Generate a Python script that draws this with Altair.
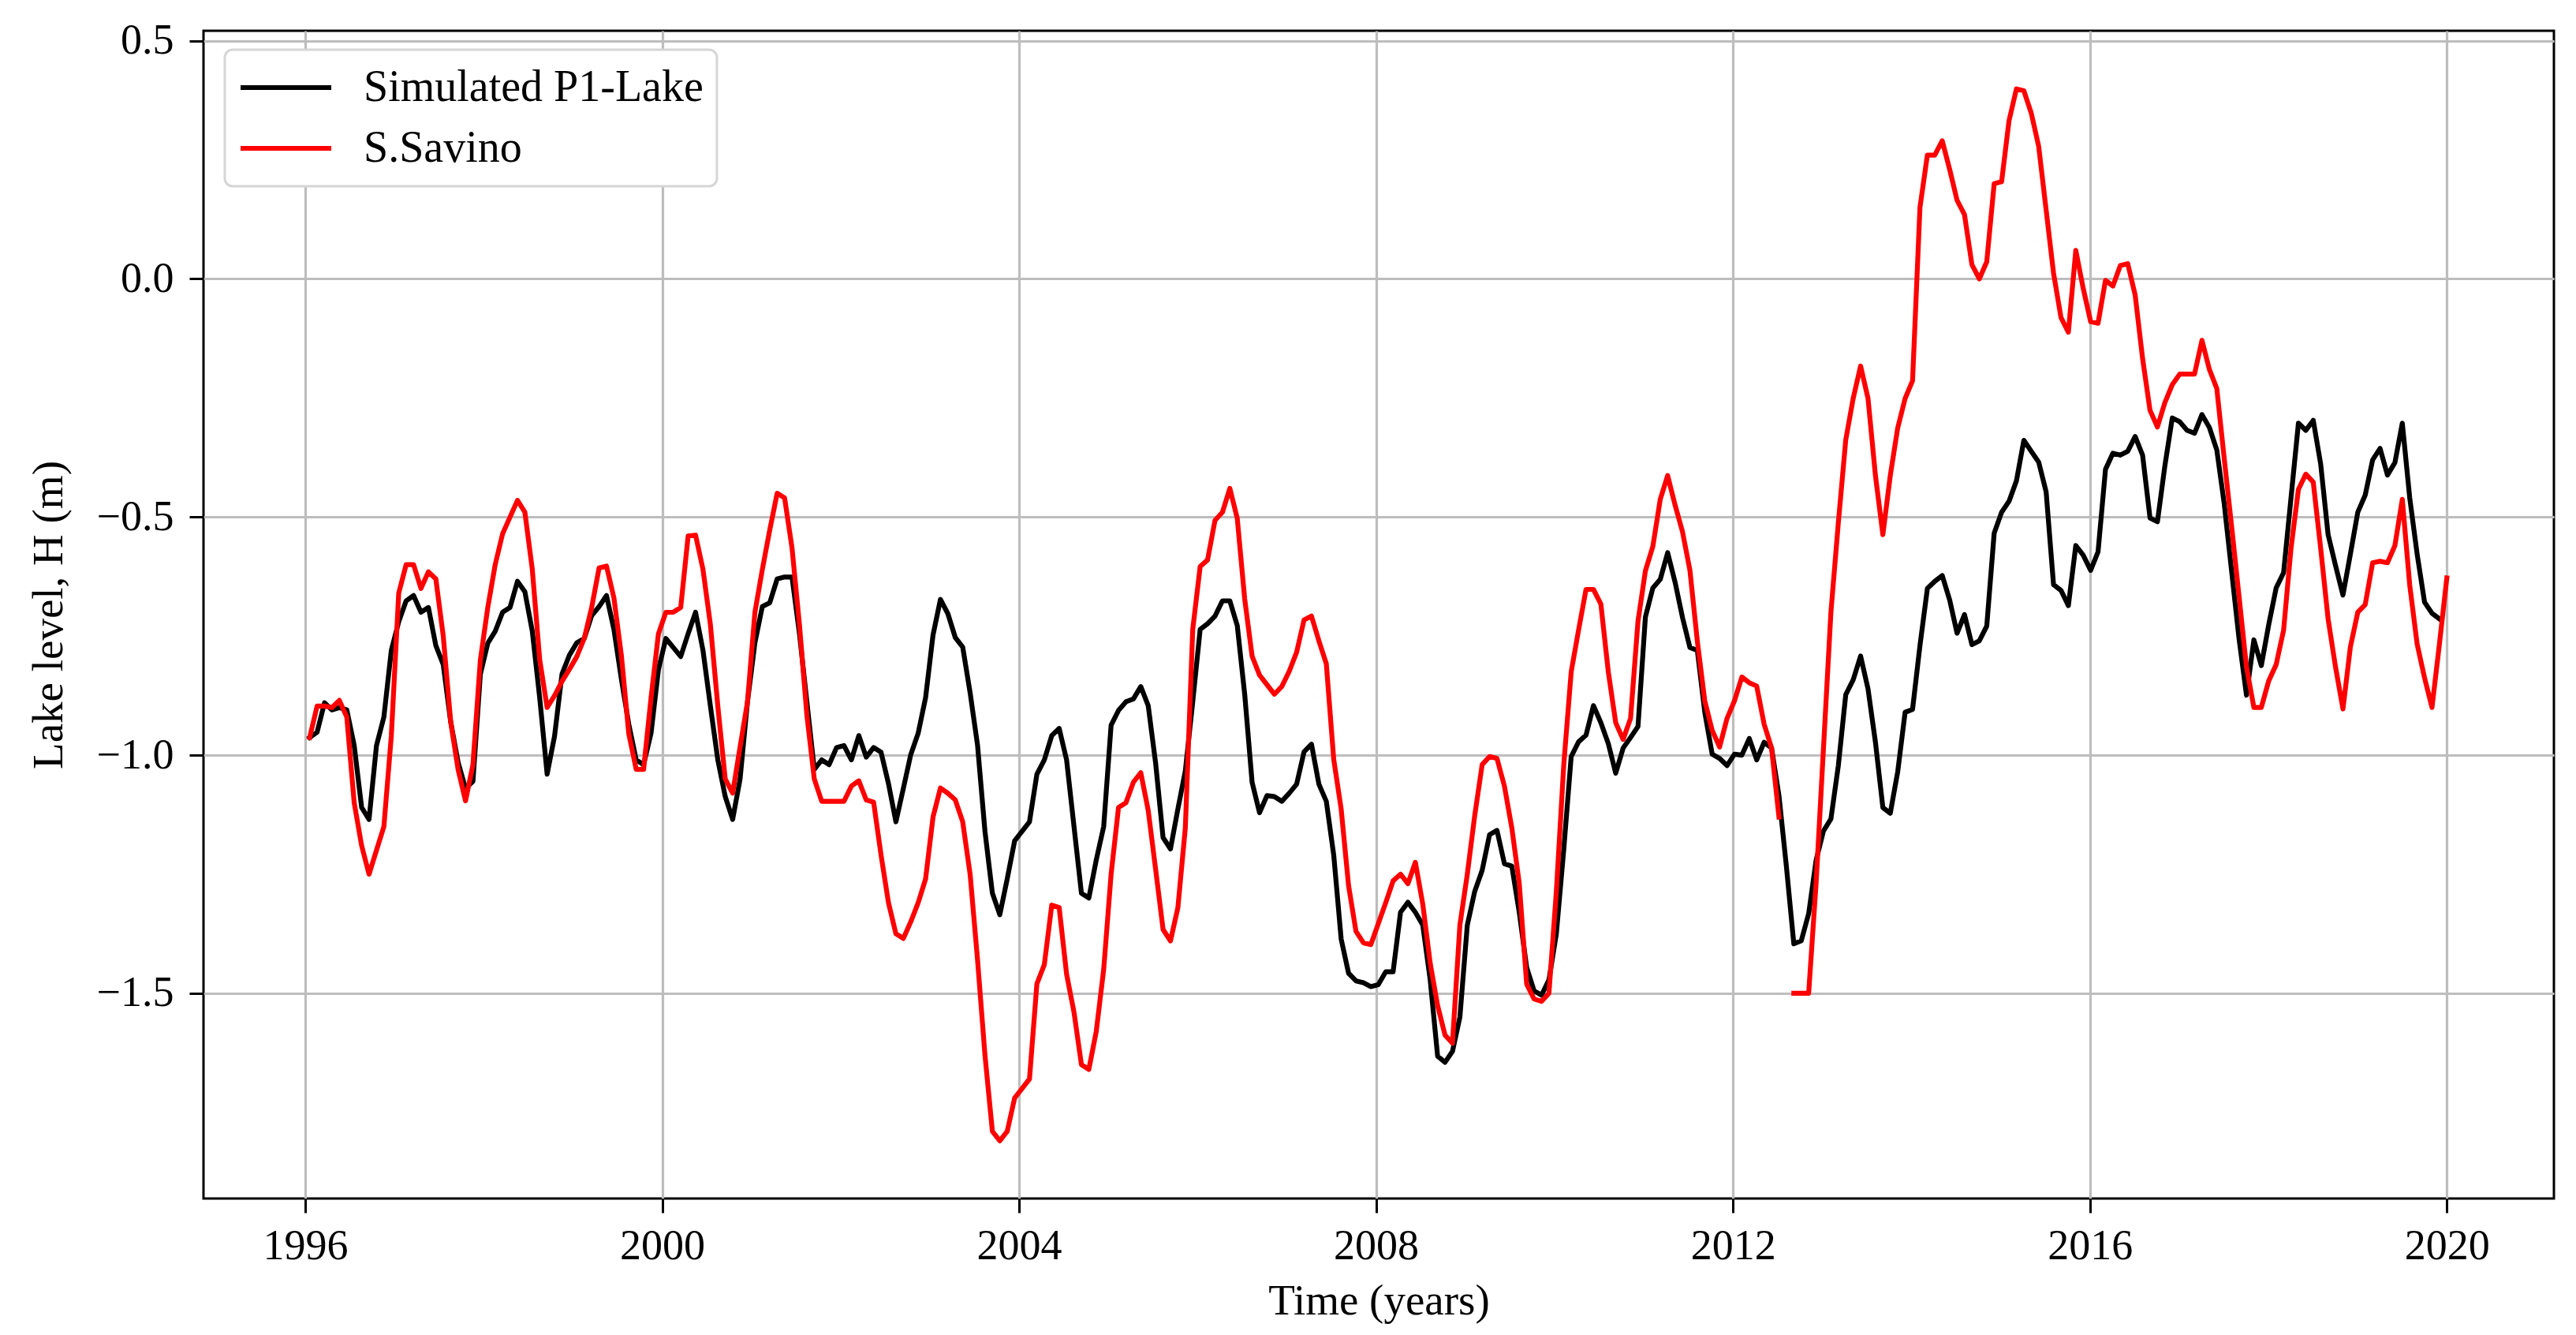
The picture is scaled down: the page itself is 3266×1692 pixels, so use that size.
import altair as alt
import pandas as pd

# time span of the monthly series (decimal years)
T_START = 1996.05
T_END = 2020.0

# Simulated P1-Lake (m), monthly
sim = [
    -0.963, -0.952, -0.89, -0.905, -0.90, -0.905, -0.98, -1.11, -1.135, -0.98, -0.92, -0.78,
    -0.72, -0.676, -0.665, -0.70, -0.69, -0.77, -0.81, -0.93, -1.015, -1.07, -1.055, -0.83,
    -0.765, -0.74, -0.70, -0.69, -0.635, -0.657, -0.74, -0.88, -1.04, -0.96, -0.83, -0.79,
    -0.764, -0.755, -0.707, -0.688, -0.665, -0.736, -0.84, -0.935, -1.01, -1.02, -0.954, -0.82,
    -0.755, -0.774, -0.793, -0.745, -0.70, -0.78, -0.897, -1.01, -1.087, -1.135, -1.05, -0.888,
    -0.764, -0.688, -0.68, -0.63, -0.626, -0.626, -0.745, -0.888, -1.03, -1.01, -1.02, -0.984,
    -0.98, -1.01, -0.959, -1.004, -0.984, -0.994, -1.06, -1.14, -1.07, -0.999, -0.954, -0.879,
    -0.748, -0.673, -0.703, -0.753, -0.773, -0.869, -0.979, -1.16, -1.29, -1.335, -1.26, -1.18,
    -1.16, -1.14, -1.04, -1.01, -0.959, -0.944, -1.01, -1.15, -1.29, -1.30, -1.22, -1.15,
    -0.937, -0.906, -0.888, -0.882, -0.856, -0.896, -1.017, -1.173, -1.197, -1.113, -1.033, -0.888,
    -0.736, -0.724, -0.708, -0.676, -0.676, -0.728, -0.872, -1.057, -1.121, -1.085, -1.087, -1.097,
    -1.08, -1.061, -0.993, -0.977, -1.061, -1.097, -1.21, -1.386, -1.458, -1.474, -1.478, -1.486,
    -1.482, -1.455, -1.455, -1.33, -1.309, -1.33, -1.357, -1.472, -1.632, -1.645, -1.622, -1.55,
    -1.357, -1.286, -1.242, -1.167, -1.158, -1.228, -1.233, -1.33, -1.446, -1.495, -1.504, -1.472,
    -1.375, -1.198, -1.003, -0.972, -0.958, -0.896, -0.932, -0.976, -1.038, -0.985, -0.963, -0.94,
    -0.71, -0.649, -0.631, -0.575, -0.637, -0.711, -0.774, -0.78, -0.91, -0.998, -1.007, -1.022,
    -0.998, -1.0, -0.965, -1.01, -0.973, -0.985, -1.085, -1.234, -1.396, -1.39, -1.333, -1.221,
    -1.159, -1.134, -1.022, -0.873, -0.842, -0.792, -0.861, -0.973, -1.11, -1.122, -1.035, -0.91,
    -0.904, -0.77, -0.65, -0.635, -0.623, -0.674, -0.744, -0.705, -0.768, -0.76, -0.729, -0.534,
    -0.49, -0.467, -0.424, -0.339, -0.362, -0.385, -0.447, -0.642, -0.654, -0.686, -0.56, -0.58,
    -0.612, -0.573, -0.40, -0.366, -0.37, -0.362, -0.331, -0.37, -0.502, -0.51, -0.393, -0.292,
    -0.30, -0.318, -0.324, -0.285, -0.312, -0.359, -0.472, -0.614, -0.756, -0.874, -0.758, -0.812,
    -0.726, -0.649, -0.617, -0.46, -0.303, -0.318, -0.297, -0.389, -0.537, -0.602, -0.664, -0.578,
    -0.49, -0.454, -0.38, -0.356, -0.412, -0.386, -0.303, -0.46, -0.578, -0.679, -0.702, -0.714,
]

# S.Savino observed (m), monthly; None = missing
sav = [
    -0.963, -0.897, -0.897, -0.90, -0.885, -0.92, -1.10, -1.19, -1.25, -1.20, -1.15, -0.96,
    -0.66, -0.60, -0.60, -0.65, -0.615, -0.63, -0.75, -0.93, -1.03, -1.096, -1.02, -0.80,
    -0.69, -0.60, -0.535, -0.50, -0.465, -0.49, -0.61, -0.80, -0.90, -0.875, -0.845, -0.82,
    -0.793, -0.755, -0.69, -0.607, -0.603, -0.67, -0.79, -0.955, -1.03, -1.03, -0.88, -0.745,
    -0.70, -0.70, -0.69, -0.54, -0.538, -0.61, -0.726, -0.897, -1.05, -1.08, -0.983, -0.888,
    -0.70, -0.61, -0.527, -0.45, -0.46, -0.565, -0.726, -0.916, -1.05, -1.097, -1.097, -1.097,
    -1.097, -1.065, -1.054, -1.094, -1.099, -1.21, -1.31, -1.375, -1.385, -1.35, -1.31, -1.26,
    -1.13, -1.069, -1.08, -1.094, -1.14, -1.25, -1.43, -1.63, -1.79, -1.81, -1.79, -1.72,
    -1.70, -1.68, -1.48, -1.44, -1.315, -1.32, -1.46, -1.54, -1.65, -1.66, -1.58, -1.45,
    -1.25, -1.11, -1.10, -1.057, -1.037, -1.116, -1.24, -1.366, -1.39, -1.32, -1.153, -0.736,
    -0.604, -0.59, -0.507, -0.49, -0.44, -0.503, -0.672, -0.792, -0.832, -0.852, -0.872, -0.856,
    -0.824, -0.784, -0.716, -0.708, -0.76, -0.808, -1.009, -1.113, -1.274, -1.37, -1.394, -1.398,
    -1.354, -1.31, -1.264, -1.25, -1.27, -1.225, -1.313, -1.437, -1.526, -1.588, -1.605, -1.357,
    -1.25, -1.127, -1.02, -1.003, -1.007, -1.065, -1.153, -1.269, -1.481, -1.512, -1.517, -1.50,
    -1.286, -1.02, -0.825, -0.737, -0.652, -0.652, -0.683, -0.825, -0.932, -0.967, -0.923, -0.719,
    -0.613, -0.562, -0.463, -0.413, -0.475, -0.531, -0.612, -0.761, -0.886, -0.948, -0.983, -0.923,
    -0.886, -0.836, -0.848, -0.855, -0.935, -0.985, -1.13, None, -1.5, -1.5, -1.5, -1.27,
    -0.985, -0.70, -0.512, -0.338, -0.251, -0.183, -0.251, -0.413, -0.537, -0.413, -0.313, -0.251,
    -0.214, 0.15, 0.26, 0.26, 0.29, 0.23, 0.165, 0.135, 0.03, 0.0, 0.036, 0.20,
    0.204, 0.332, 0.399, 0.395, 0.348, 0.278, 0.145, 0.012, -0.081, -0.112, 0.06, -0.02,
    -0.09, -0.093, -0.003, -0.015, 0.028, 0.032, -0.034, -0.167, -0.276, -0.311, -0.26, -0.222,
    -0.20, -0.20, -0.20, -0.129, -0.19, -0.23, -0.377, -0.52, -0.667, -0.815, -0.90, -0.90,
    -0.844, -0.81, -0.738, -0.566, -0.442, -0.41, -0.427, -0.566, -0.714, -0.815, -0.903, -0.773,
    -0.70, -0.684, -0.596, -0.593, -0.596, -0.56, -0.463, -0.643, -0.767, -0.838, -0.90, -0.767,
    -0.628,
]

SERIES = ["Simulated P1-Lake", "S.Savino"]
COLORS = ["#000000", "#ff0000"]
X_TICKS = [1996, 2000, 2004, 2008, 2012, 2016, 2020]
Y_TICKS = [-1.5, -1.0, -0.5, 0.0, 0.5]

n = len(sav)
step = (T_END - T_START) / (n - 1)
times = [T_START + i * step for i in range(n)]

rows = []
for i, v in enumerate(sim):
    rows.append({"t": times[i], "H": v, "series": SERIES[0], "seg": 0})
seg = 0
for i, v in enumerate(sav):
    if v is None:
        seg += 1
        continue
    rows.append({"t": times[i], "H": v, "series": SERIES[1], "seg": seg})
df = pd.DataFrame(rows)

FONT = "Liberation Serif"

color = alt.Color(
    "series:N",
    scale=alt.Scale(domain=SERIES, range=COLORS),
    legend=alt.Legend(
        title=None,
        orient="none",
        legendX=27,
        legendY=24,
        symbolType="stroke",
        symbolSize=13225,
        symbolStrokeWidth=6,
        clipHeight=62,
        labelFont=FONT,
        labelFontSize=56,
        labelColor="black",
        labelLimit=2000,
        labelOffset=38,
        padding=17,
        rowPadding=15,
        strokeColor="#d6d6d6",
        fillColor="white",
        cornerRadius=10,
    ),
)

x = alt.X(
    "t:Q",
    scale=alt.Scale(domain=[1994.86, 2021.2], nice=False, zero=False),
    axis=alt.Axis(values=X_TICKS, format="d", title="Time (years)",
                  labelPadding=15, titlePadding=16),
)
y = alt.Y(
    "H:Q",
    scale=alt.Scale(domain=[-1.931, 0.521], nice=False, zero=False),
    axis=alt.Axis(values=Y_TICKS, format=".1f", title="Lake level, H (m)",
                  labelPadding=20, titlePadding=32),
)

base = alt.Chart(df).mark_line(strokeWidth=6.2, strokeJoin="round", strokeCap="square")

black = base.transform_filter(alt.datum.series == SERIES[0]).encode(
    x=x, y=y, color=color, detail="seg:N")
red = base.transform_filter(alt.datum.series == SERIES[1]).encode(
    x=x, y=y, color=color, detail="seg:N")

chart = (
    alt.layer(black, red)
    .properties(width=2980, height=1480,
                padding={"left": 26, "top": 16, "right": 5, "bottom": 5})
    .configure_view(stroke="black", strokeWidth=3)
    .configure_axis(
        grid=True, gridColor="#bdbdbd", gridWidth=3.2,
        domain=False, tickColor="black", tickWidth=3, tickSize=18,
        labelFont=FONT, labelFontSize=54, labelColor="black",
        titleFont=FONT, titleFontSize=55, titleFontWeight="normal", titleColor="black",
    )
    .configure_legend(strokeWidth=3)
)

chart.save("out.html", embed_options={"renderer": "svg", "actions": False})
